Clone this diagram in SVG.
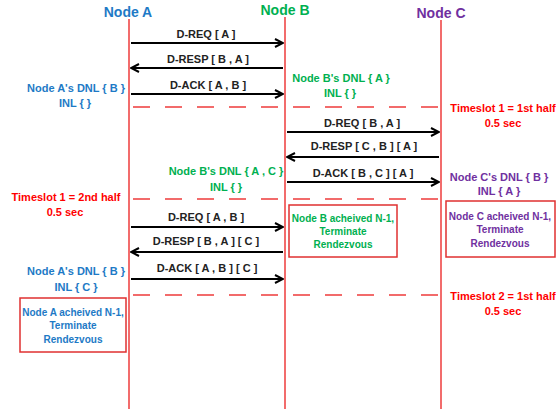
<svg xmlns="http://www.w3.org/2000/svg" width="558" height="409" viewBox="0 0 558 409">
<defs>
<marker id="ah" viewBox="0 0 10 10" refX="9" refY="5" markerWidth="10" markerHeight="10" markerUnits="userSpaceOnUse" orient="auto-start-reverse">
<path d="M1,1 L9,5 L1,9" fill="none" stroke="#000" stroke-width="2"/>
</marker>
<style>
text{font-family:"Liberation Sans",Arial,sans-serif;font-weight:bold;font-size:11px;text-anchor:middle}
.title{font-size:14px}
.blue{fill:#1E7AC6}.green{fill:#00B050}.purple{fill:#7030A0}.red{fill:#FF0000}.blk{fill:#222}
.life{stroke:#EE3B3B;stroke-width:1.5;fill:none}
.dash{stroke:#EE3B3B;stroke-width:1.5;stroke-dasharray:17 15;fill:none}
.msg{stroke:#000;stroke-width:2;fill:none;marker-end:url(#ah)}
.box{fill:#fff;stroke:#E03030;stroke-width:1.5}
.small{font-size:10px}
</style>
</defs>
<rect width="558" height="409" fill="#fff"/>
<g id="nodeA">
<text class="title blue" x="128" y="17">Node A</text>
<line class="life" x1="129" y1="19" x2="129" y2="409"/>
</g>
<g id="nodeB">
<text class="title green" x="285" y="15">Node B</text>
<line class="life" x1="285" y1="17" x2="285" y2="409"/>
</g>
<g id="nodeC">
<text class="title purple" x="441" y="18">Node C</text>
<line class="life" x1="441" y1="20" x2="441" y2="409"/>
</g>
<g id="connectors">
<line class="msg" x1="131" y1="43" x2="283" y2="43"/>
<line class="msg" x1="283" y1="68" x2="131" y2="68"/>
<line class="msg" x1="131" y1="94" x2="283" y2="94"/>
<line class="msg" x1="287" y1="132" x2="439" y2="132"/>
<line class="msg" x1="439" y1="157" x2="287" y2="157"/>
<line class="msg" x1="287" y1="182" x2="439" y2="182"/>
<line class="msg" x1="131" y1="227" x2="283" y2="227"/>
<line class="msg" x1="283" y1="252" x2="131" y2="252"/>
<line class="msg" x1="131" y1="279" x2="283" y2="279"/>
<line class="dash" x1="133" y1="107" x2="440" y2="107"/>
<line class="dash" x1="133" y1="199" x2="440" y2="199"/>
<line class="dash" x1="133" y1="295" x2="440" y2="295"/>
</g>
<g id="labels">
<text class="blk" x="206" y="38">D-REQ [ A ]</text>
<text class="blk" x="208" y="63">D-RESP [ B , A ]</text>
<text class="blk" x="208" y="89">D-ACK [ A , B ]</text>
<text class="blk" x="362" y="127">D-REQ [ B , A ]</text>
<text class="blk" x="364" y="150">D-RESP [ C , B ] [ A ]</text>
<text class="blk" x="363" y="177">D-ACK [ B , C ] [ A ]</text>
<text class="blk" x="206" y="221">D-REQ [ A , B ]</text>
<text class="blk" x="206" y="245">D-RESP [ B , A ] [ C ]</text>
<text class="blk" x="207" y="272">D-ACK [ A , B ] [ C ]</text>
</g>
<g id="stateA1">
<text class="blue" x="76" y="92">Node A's DNL { B }</text>
<text class="blue" x="75" y="107">INL { }</text>
</g>
<g id="stateB1">
<text class="green" x="341" y="82">Node B's DNL { A }</text>
<text class="green" x="340" y="97">INL { }</text>
</g>
<g id="timeslot1a">
<text class="red" x="503" y="112">Timeslot 1 = 1st half</text>
<text class="red" x="503" y="127">0.5 sec</text>
</g>
<g id="stateB2">
<text class="green" x="226" y="175">Node B's DNL { A , C }</text>
<text class="green" x="226" y="191">INL { }</text>
</g>
<g id="stateC1">
<text class="purple" x="499" y="181">Node C's DNL { B }</text>
<text class="purple" x="499" y="195">INL { A }</text>
</g>
<g id="timeslot1b">
<text class="red" x="66" y="201">Timeslot 1 = 2nd half</text>
<text class="red" x="65" y="216">0.5 sec</text>
</g>
<g id="boxB">
<rect class="box" x="289" y="205" width="108" height="52"/>
<text class="green small" x="343" y="222">Node B acheived N-1,</text>
<text class="green small" x="343" y="235">Terminate</text>
<text class="green small" x="343" y="248">Rendezvous</text>
</g>
<g id="boxC">
<rect class="box" x="446" y="201" width="109" height="56"/>
<text class="purple small" x="500" y="220">Node C acheived N-1,</text>
<text class="purple small" x="500" y="233">Terminate</text>
<text class="purple small" x="500" y="247">Rendezvous</text>
</g>
<g id="stateA2">
<text class="blue" x="76" y="275">Node A's DNL { B }</text>
<text class="blue" x="76" y="291">INL { C }</text>
</g>
<g id="timeslot2">
<text class="red" x="503" y="300">Timeslot 2 = 1st half</text>
<text class="red" x="503" y="315">0.5 sec</text>
</g>
<g id="boxA">
<rect class="box" x="20" y="298" width="106" height="54"/>
<text class="blue small" x="73" y="316">Node A acheived N-1,</text>
<text class="blue small" x="73" y="329">Terminate</text>
<text class="blue small" x="73" y="343">Rendezvous</text>
</g>
</svg>
